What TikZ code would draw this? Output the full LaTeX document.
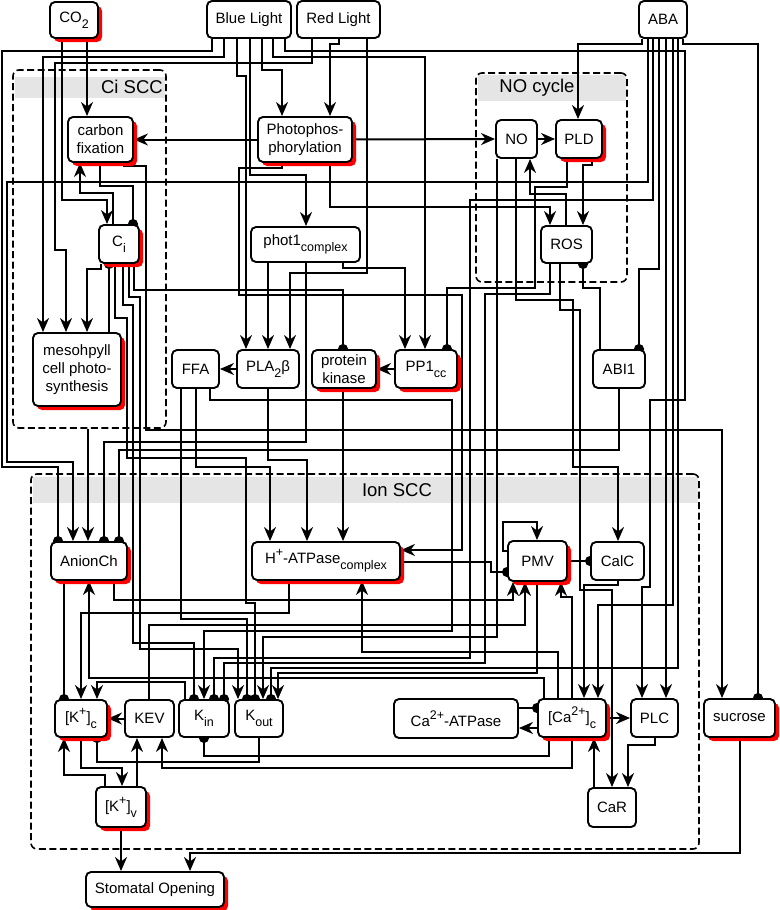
\documentclass[tikz,border=0pt]{standalone}
\usepackage{fontspec}
\setmainfont{Liberation Sans}
\usetikzlibrary{arrows.meta,shadows}
\newcommand{\sbs}[1]{\raisebox{-6pt}{\fontsize{12.5}{12.5}\selectfont #1}}
\newcommand{\sps}[1]{\raisebox{7pt}{\fontsize{12.5}{12.5}\selectfont #1}}
\pgfdeclarelayer{grplayer}
\pgfdeclarelayer{wirelayer}
\pgfsetlayers{grplayer,wirelayer,main}
\tikzset{
 box/.style={draw, line width=1.9pt, rounded corners=5pt, fill=white, align=center, inner sep=0pt, font=\fontsize{15}{18}\selectfont},
 sh/.style={general shadow={fill=red, shadow xshift=4pt, shadow yshift=-4pt}},
 grp/.style={draw, dash pattern=on 7pt off 3.5pt, line width=1.6pt, rounded corners=6pt, inner sep=0pt},
 hdr/.style={fill=black!10},
 glab/.style={inner sep=0pt, font=\fontsize{18.5}{20}\selectfont},
 w/.style={line width=2pt},
 act/.style={w, -{Stealth[length=14pt,width=12pt,inset=4.5pt]}},
 inh/.style={w, -{Circle[length=10pt]}, shorten >=-5pt},
}
\begin{document}
\begin{tikzpicture}[x=1pt,y=-1pt]
\useasboundingbox (0,0) rectangle (779,910);
% groups
\begin{pgfonlayer}{grplayer}
\fill[hdr] (14.5,77) rectangle (164.5,98);
\fill[hdr] (477.5,75) rectangle (625.5,101);
\fill[hdr] (32.5,477) rectangle (697.5,503);
\node[grp, minimum width=153pt, minimum height=358pt] (ciscc) at (89.5,249) {};
\node[grp, minimum width=151pt, minimum height=209pt] (nocyc) at (551.5,177.5) {};
\node[grp, minimum width=668pt, minimum height=375pt] (ionscc) at (365,661.5) {};
\node[glab, anchor=east] (cilab) at (163,87) {Ci SCC};
\node[glab] (nolab) at (537,88) {NO cycle};
\node[glab] (ionlab) at (397,490) {Ion SCC};
\end{pgfonlayer}
% nodes
\node[box, sh, minimum width=48pt, minimum height=36pt] (co2) at (74,20) {CO\sbs{2}};
\node[box, minimum width=84pt, minimum height=37pt] (blue) at (249,19.5) {Blue Light};
\node[box, minimum width=83pt, minimum height=37pt] (red) at (338.5,19.5) {Red Light};
\node[box, minimum width=48pt, minimum height=37pt] (aba) at (663,19.5) {ABA};
\node[box, sh, minimum width=65pt, minimum height=45pt] (cfix) at (100.5,139.5) {carbon\\fixation};
\node[box, sh, minimum width=94pt, minimum height=45pt] (photo) at (305,139.5) {Photophos-\\phorylation};
\node[box, minimum width=41pt, minimum height=38pt] (no) at (516.5,139) {NO};
\node[box, sh, minimum width=46pt, minimum height=38pt] (pld) at (579,139) {PLD};
\node[box, sh, minimum width=40pt, minimum height=38pt] (ci) at (119,244) {C\sbs{i}};
\node[box, minimum width=109pt, minimum height=35pt] (phot1) at (305.5,244.5) {phot1\sbs{complex}};
\node[box, minimum width=51pt, minimum height=37pt] (ros) at (566.5,244.5) {ROS};
\node[box, sh, minimum width=88pt, minimum height=73pt] (meso) at (77,369.5) {mesohpyll\\cell photo-\\synthesis};
\node[box, minimum width=47pt, minimum height=38pt] (ffa) at (195.5,369) {FFA};
\node[box, minimum width=62pt, minimum height=38pt] (pla) at (268,369) {PLA\sbs{2}β};
\node[box, sh, minimum width=64pt, minimum height=38pt] (pk) at (344,369) {protein\\kinase};
\node[box, sh, minimum width=62pt, minimum height=38pt] (pp1) at (426,369) {PP1\sbs{cc}};
\node[box, minimum width=52pt, minimum height=38pt] (abi1) at (619,369) {ABI1};
\node[box, sh, minimum width=76pt, minimum height=38pt] (anion) at (89,561) {AnionCh};
\node[box, sh, minimum width=148pt, minimum height=38pt] (hatp) at (326,561) {H\sps{+}-ATPase\sbs{complex}};
\node[box, sh, minimum width=59pt, minimum height=40pt] (pmv) at (537.5,561) {PMV};
\node[box, minimum width=53pt, minimum height=38pt] (calc) at (617.5,561) {CalC};
\node[box, sh, minimum width=52pt, minimum height=37pt] (kc) at (81,718.5) {[K\sps{+}]\sbs{c}};
\node[box, minimum width=49pt, minimum height=37pt] (kev) at (149.5,718.5) {KEV};
\node[box, minimum width=50pt, minimum height=37pt] (kin) at (204,718.5) {K\sbs{in}};
\node[box, minimum width=48pt, minimum height=37pt] (kout) at (259,718.5) {K\sbs{out}};
\node[box, sh, minimum width=50pt, minimum height=40pt] (kv) at (121,807) {[K\sps{+}]\sbs{v}};
\node[box, sh, minimum width=138pt, minimum height=35pt] (so) at (155,889.5) {Stomatal Opening};
\node[box, minimum width=124pt, minimum height=39pt] (caatp) at (456,718.5) {Ca\sps{2+}-ATPase};
\node[box, sh, minimum width=68pt, minimum height=38pt] (cac) at (572,718) {[Ca\sps{2+}]\sbs{c}};
\node[box, minimum width=47pt, minimum height=38pt] (plc) at (654.5,718) {PLC};
\node[box, minimum width=48pt, minimum height=39pt] (car) at (612,807.5) {CaR};
\node[box, sh, minimum width=71pt, minimum height=38pt] (suc) at (739.5,718) {sucrose};
% wires
\begin{pgfonlayer}{wirelayer}
\draw[inh] (212,0 |- blue.south) -- (212,51) -- (2,51) -- (2,467) -- (58,467) -- (58,0 |- anion.north);
\draw[act] (224,0 |- blue.south) -- (224,57) -- (43,57) -- (43,0 |- meso.north);
\draw[act] (312,0 |- red.south) -- (312,63) -- (55,63) -- (55,250) -- (66,250) -- (66,0 |- meso.north);
\draw[act] (262,0 |- blue.south) -- (262,70) -- (282,70) -- (282,0 |- photo.north);
\draw[act] (339,0 |- red.south) -- (339,44) -- (330,44) -- (330,0 |- photo.north);
\draw[act] (250,0 |- blue.south) -- (250,175) -- (306,175) -- (306,0 |- phot1.north);
\draw[act] (237,0 |- blue.south) -- (237,76) -- (246,76) -- (246,0 |- pla.north);
\draw[act] (273,0 |- blue.south) -- (273,57) -- (425,57) -- (425,0 |- pp1.north);
\draw[act] (285,0 |- blue.south) -- (285,51) -- (685,51) -- (685,400) -- (650,400) -- (650,587) -- (642,587) -- (642,0 |- plc.north);
\draw[act] (367,0 |- red.south) -- (367,273) -- (290,273) -- (290,0 |- pla.north);
\draw[act] (87,0 |- co2.south) -- (87,0 |- cfix.north);
\draw[act] (62,0 |- co2.south) -- (62,200) -- (107,200) -- (107,0 |- ci.north);
\draw[act] (113,0 |- ci.north) -- (113,193) -- (80,193) -- (80,0 |- cfix.south);
\draw[inh] (100,0 |- cfix.south) -- (100,186) -- (133,186) -- (133,0 |- ci.north);
\draw[act] (124,0 |- cfix.south) -- (124,166) -- (146,166) -- (146,430) -- (722,430) -- (722,0 |- suc.north);
\draw[act] (photo.west) -- (cfix.east);
\draw[act] (photo.east) -- (no.west);
\draw[act] (no.east) -- (pld.west);
\draw[act] (642,0 |- aba.south) -- (642,44) -- (578,44) -- (578,0 |- pld.north);
\draw[inh] (683,0 |- aba.south) -- (683,44) -- (758,44) -- (758,0 |- suc.north);
\draw[act] (648,0 |- aba.south) -- (648,182) -- (7,182) -- (7,462) -- (73,462) -- (73,0 |- anion.north);
\draw[act] (88,0 |- ciscc.south) -- (88,0 |- anion.north);
\draw[inh] (653,0 |- aba.south) -- (653,200) -- (470,200) -- (470,658) -- (214,658) -- (214,0 |- kin.north);
\draw[inh] (659,0 |- aba.south) -- (659,269) -- (639,269) -- (639,0 |- abi1.north);
\draw[act] (666,0 |- aba.south) -- (666,0 |- plc.north);
\draw[act] (673,0 |- aba.south) -- (673,605) -- (598,605) -- (598,0 |- cac.north);
\draw[inh] (678,0 |- aba.south) -- (678,668) -- (271,668) -- (271,0 |- kout.north);
% Ci
\draw[act] (101,0 |- ci.south) -- (101,269) -- (87,269) -- (87,0 |- meso.north);
\draw[inh] (109,0 |- meso.north) -- (109,0 |- ci.south);
\draw[inh] (115,0 |- ci.south) -- (115,318) -- (127,318) -- (127,458) -- (246,458) -- (246,603) -- (255,603) -- (255,0 |- kout.north);
\draw[inh] (123,0 |- ci.south) -- (123,305) -- (133,305) -- (133,643) -- (194,643) -- (194,0 |- kin.north);
\draw[act] (129,0 |- ci.south) -- (129,297) -- (140,297) -- (140,649) -- (238,649) -- (238,0 |- kout.north);
\draw[inh] (134,0 |- ci.south) -- (134,290) -- (343,290) -- (343,0 |- pk.north);
% photophosphorylation, phot1
\draw[act] (282,0 |- photo.south) -- (282,168) -- (239,168) -- (239,295) -- (462,295) -- (462,550) -- (hatp.east |- 0,550);
\draw[act] (330,0 |- photo.south) -- (330,207) -- (550,207) -- (550,0 |- ros.north);
\draw[act] (268,0 |- phot1.south) -- (268,0 |- pla.north);
\draw[inh] (306,0 |- phot1.south) -- (306,442) -- (104,442) -- (104,0 |- anion.north);
\draw[act] (343,0 |- phot1.south) -- (343,268) -- (405,268) -- (405,0 |- pp1.north);
% middle row
\draw[act] (pla.west) -- (ffa.east);
\draw[act] (pp1.west) -- (pk.east);
\draw[act] (268,0 |- pla.south) -- (268,460) -- (307,460) -- (307,0 |- hatp.north);
\draw[act] (196,0 |- ffa.south) -- (196,467) -- (270,467) -- (270,0 |- hatp.north);
\draw[inh] (181,0 |- ffa.south) -- (181,619) -- (247,619) -- (247,0 |- kout.north);
\draw[act] (210,0 |- ffa.south) -- (210,400) -- (452,400) -- (452,631) -- (204,631) -- (204,0 |- kin.north);
\draw[act] (343,0 |- pk.south) -- (343,0 |- hatp.north);
% NO cycle
\draw[inh] (567,0 |- pld.south) -- (567,187) -- (535,187) -- (535,288) -- (447,288) -- (447,0 |- pp1.north);
\draw[act] (592,0 |- pld.south) -- (592,165) -- (583,165) -- (583,0 |- ros.north);
\draw[act] (566,0 |- ros.north) -- (566,194) -- (530,194) -- (530,0 |- no.south);
\draw[act] (497,0 |- no.south) -- (497,637) -- (263,637) -- (263,0 |- kout.north);
\draw[act] (516,0 |- no.south) -- (516,300) -- (573,300) -- (573,467) -- (618,467) -- (618,0 |- calc.north);
\draw[inh] (550,0 |- ros.south) -- (550,294) -- (485,294) -- (485,663) -- (224,663) -- (224,0 |- kin.north);
\draw[act] (560,0 |- ros.south) -- (560,310) -- (580,310) -- (580,590) -- (612,590) -- (612,0 |- car.north);
\draw[inh] (600,0 |- abi1.north) -- (600,288) -- (583,288) -- (583,0 |- ros.south);
\draw[inh] (619,0 |- abi1.south) -- (619,450) -- (119,450) -- (119,0 |- anion.north);
% ion SCC
\draw[inh] (64,0 |- anion.south) -- (64,0 |- kc.north);
\draw[act] (114,0 |- anion.south) -- (114,600) -- (513,600) -- (513,0 |- pmv.south);
\draw[act] (289,0 |- hatp.south) -- (289,613) -- (81,613) -- (81,0 |- kc.north);
\draw[act] (558,0 |- cac.north) -- (558,652) -- (362,652) -- (362,0 |- hatp.south);
\draw[act] (544,0 |- cac.north) -- (544,678) -- (89,678) -- (89,0 |- anion.south);
\draw[act] (572,0 |- cac.north) -- (572,597) -- (561,597) -- (561,0 |- pmv.south);
\draw[act] (537,0 |- pmv.south) -- (537,673) -- (278,673) -- (278,0 |- kout.north);
\draw[act] (149,0 |- kev.north) -- (149,625) -- (525,625) -- (525,0 |- pmv.south);
\draw[inh] (hatp.east |- 0,562) -- (491,562) -- (491,572) -- (pmv.west |- 0,572);
\draw[act] (pmv.west |- 0,551) -- (503,551) -- (503,522) -- (537,522) -- (537,0 |- pmv.north);
\draw[inh] (pmv.east) -- (calc.west);
\draw[act] (618,0 |- calc.south) -- (618,585) -- (584,585) -- (584,0 |- cac.north);
\draw[act] (cac.east) -- (plc.west);
\draw[act] (cac.west |- 0,728) -- (caatp.east |- 0,728);
\draw[inh] (caatp.east |- 0,708) -- (cac.west |- 0,708);
\draw[act] (594,0 |- car.north) -- (594,0 |- cac.south);
\draw[act] (655,0 |- plc.south) -- (655,745) -- (628,745) -- (628,0 |- car.north);
\draw[inh] (549,0 |- cac.south) -- (549,756) -- (204,756) -- (204,0 |- kin.south);
\draw[act] (572,0 |- cac.south) -- (572,768) -- (162,768) -- (162,0 |- kev.south);
\draw[inh] (259,0 |- kout.south) -- (259,762) -- (97,762) -- (97,0 |- kc.south);
\draw[act] (185,0 |- kin.north) -- (185,682) -- (97,682) -- (97,0 |- kc.north);
\draw[act] (kev.west) -- (kc.east);
\draw[act] (81,0 |- kc.south) -- (81,768) -- (122,768) -- (122,0 |- kv.north);
\draw[act] (105,0 |- kv.north) -- (105,775) -- (64,775) -- (64,0 |- kc.south);
\draw[act] (137,0 |- kv.north) -- (137,0 |- kev.south);
\draw[act] (121,0 |- kv.south) -- (121,0 |- so.north);
\draw[act] (740,0 |- suc.south) -- (740,853) -- (190,853) -- (190,0 |- so.north);
\end{pgfonlayer}
\end{tikzpicture}
\end{document}
